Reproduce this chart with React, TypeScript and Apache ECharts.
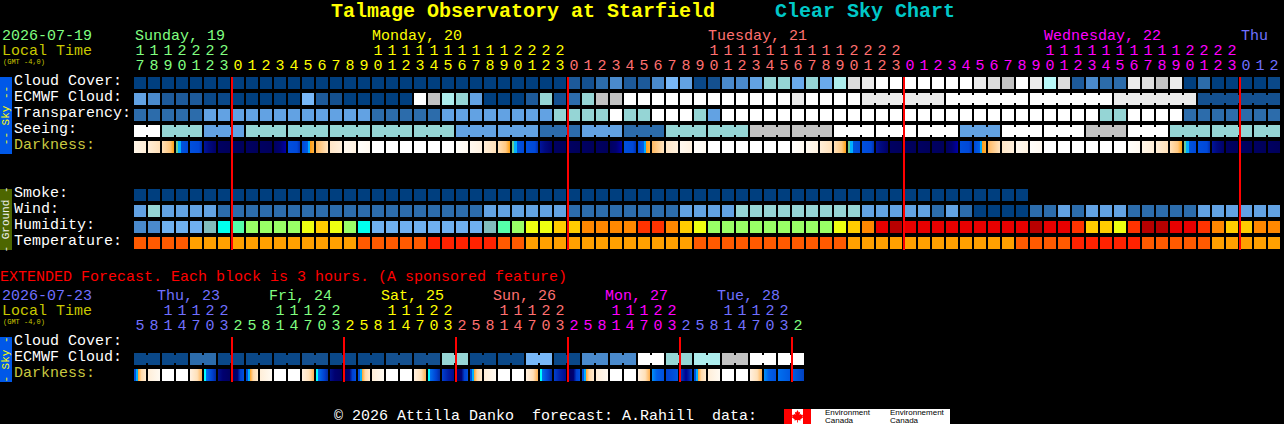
import React, { useEffect, useRef } from "react";
import * as echarts from "echarts";

const MONO = '"Liberation Mono", monospace';

const mainHours = ["17","18","19","20","21","22","23",
  "0","1","2","3","4","5","6","7","8","9","10","11","12","13","14","15","16","17","18","19","20","21","22","23",
  "0","1","2","3","4","5","6","7","8","9","10","11","12","13","14","15","16","17","18","19","20","21","22","23",
  "0","1","2","3","4","5","6","7","8","9","10","11","12","13","14","15","16","17","18","19","20","21","22","23",
  "0","1","2"];
const extHours = ["5","8","11","14","17","20","23",
  "2","5","8","11","14","17","20","23",
  "2","5","8","11","14","17","20","23",
  "2","5","8","11","14","17","20","23",
  "2","5","8","11","14","17","20","23",
  "2","5","8","11","14","17","20","23",
  "2"];

const dayColors = ["#80ff80", "#ffff00", "#ff7070", "#ff00ff", "#7070ff"];
const mainDayLabels = [
  { text: "Sunday, 19", x: 135, c: 0 },
  { text: "Monday, 20", x: 372, c: 1 },
  { text: "Tuesday, 21", x: 708, c: 2 },
  { text: "Wednesday, 22", x: 1044, c: 3 },
  { text: "Thu", x: 1241, c: 4 },
];
const extDayLabels = [
  { text: "Thu, 23", x: 157, c: 4 },
  { text: "Fri, 24", x: 269, c: 0 },
  { text: "Sat, 25", x: 381, c: 1 },
  { text: "Sun, 26", x: 493, c: 2 },
  { text: "Mon, 27", x: 605, c: 3 },
  { text: "Tue, 28", x: 717, c: 4 },
];

const mainRows = ["Cloud Cover:", "ECMWF Cloud:", "Transparency:", "Seeing:", "Darkness:", " ", "  ", "Smoke:", "Wind:", "Humidity:", "Temperature:"];
const extRows = ["Cloud Cover:", "ECMWF Cloud:", "Darkness:"];
const DARK_LABEL = "#c8c840";

const skyPalette = ["#003f7f","#0a4888","#14508f","#1d5a9a","#2c6cab","#4a8acc","#62a2e3","#6aaaeb","#78b8f8","#95d5d5","#adeded","#b9f9f9","#c2c2c2","#dddddd","#ebebeb","#ffffff"];
const humidityPalette = ["#4a8acc","#6fb0f0","#80bcbc","#00ffee","#55ffaa","#99ff66","#eeff11","#ffcc00","#ff8800","#ff3300","#e80000","#b80000"];
const temperaturePalette = ["#ffa000","#ff5a00","#ff2200"];

const cloudCover = [0,0,0,0,0,0,0,0,0,0,0,0,0,0,0,0,0,0,0,0,0,0,0,0,0,0,0,0,0,0,0,
  3,2,4,5,3,3,5,8,6,1,2,5,5,6,9,9,7,9,7,10,13,14,15,15,15,15,15,15,15,14,13,12,15,14,11,13,3,5,4,4,14,13,12,14,0,4,0,0,0,0,1];
const ecmwfCloud = [6,5,3,3,3,1,1,0,0,0,0,0,8,3,2,0,0,0,0,0,15,12,10,9,6,0,0,0,3,9,2,4,9,12,12,
  15,15,15,15,15,15,15,15,15,15,15,15,14,15,15,15,15,
  14,14,14,14,14,14,15,15,15,15,15,15,15,15,15,15,15,15,14,14,14,14,14,14,2,2,2,2,2,2];
const transparency = [4,4,4,4,4,6,6,6,6,6,6,6,6,6,6,6,6,4,4,4,4,4,6,6,6,6,6,6,6,6,9,9,9,9,15,9,9,15,15,15,9,6,
  15,15,15,15,15,15,15,15,15,15,15,15,15,15,15,15,15,15,15,15,15,15,15,15,15,15,15,9,9,15,15,15,15,4,4,4,4,4,4,4];
const seeing = [15,15,9,9,9,6,6,6,9,9,9,9,9,9,9,9,9,9,9,9,9,9,9,6,6,6,6,6,6,4,4,4,6,6,6,4,4,4,9,9,9,9,9,9,12,12,12,12,12,12,
  15,15,15,15,15,15,15,15,15,6,6,6,15,15,15,15,15,15,12,12,12,15,15,15,9,9,9,9,9,9,9,9];
const darkness = ["E0","E1","SS","CY","B","DK","N","N","N","N","DU","B","SR","A1","A2","F2","F1","W","W","W","W","W","W","F1",
  "F2","E1","SS","CY","B","DK","N","N","N","N","DU","B","SR","A1","A2","F2","F1","W","W","W","W","W","W","F1",
  "F2","E1","SS","CY","B","DK","N","N","N","N","DU","B","SR","A1","A2","F2","F1","W","W","W","W","W","W","F1",
  "E0","E1","SS","CY","B","DK","N","N","N","N"];
const smoke = [0,0,0,0,0,0,0,0,0,0,0,0,0,0,0,0,0,0,0,0,0,0,0,0,0,0,0,0,0,0,0,0,0,0,0,0,0,0,0,0,0,0,0,0,0,0,0,0,0,0,0,0,0,0,0,0,0,0,0,0,0,0,0,0];
const wind = [6,9,6,6,6,6,4,4,4,4,4,4,4,4,4,4,4,4,4,4,4,4,4,4,4,6,6,6,6,6,6,4,4,4,4,4,4,4,4,6,6,6,6,9,9,9,9,9,9,9,9,9,
  6,6,6,6,6,4,6,4,0,0,0,0,4,4,6,4,6,6,6,4,4,4,4,4,6,6,6,6,6,6];
const humidity = [0,0,1,1,1,2,3,4,5,5,5,5,6,7,6,5,3,1,1,1,1,1,1,1,1,2,4,5,6,6,7,7,8,8,8,8,9,9,8,7,6,5,5,5,5,5,5,5,5,5,6,7,8,
  10,11,10,10,10,10,10,10,10,10,10,11,10,10,9,7,7,6,9,11,11,10,10,9,8,7,7,8,8];
const temperature = [1,1,1,1,0,0,0,0,0,0,0,0,0,0,0,0,1,1,1,1,1,2,2,2,2,2,1,1,0,0,0,0,0,0,0,0,0,0,0,0,1,1,1,1,1,1,1,1,1,1,1,
  0,0,0,0,0,0,0,0,0,0,0,0,1,1,1,1,2,2,2,2,2,1,1,1,1,1,0,0,0,0,0];

const extEcmwf = [1,1,1,1,4,4,1,1,1,1,1,1,2,2,1,1,1,1,2,2,2,2,9,9,1,1,1,1,8,8,1,1,5,5,5,5,15,15,9,9,10,10,12,12,15,15,15,15];
const extDarkness = ["X0","X1","W","W","X4","X5","X6","X7",
  "X0","X1","W","W","X4","X5","X6","X7",
  "X0","X1","W","W","X4","X5","X6B","X7",
  "X0","X1","W","W","X4","X5","X6B","X7",
  "X0","X1","W","W","X4","X5B","X6C","X7B",
  "X0","X1","W","W","X4","X5B","X6D","X7C"];

const mainMidnights = [7, 31, 55, 79];
const extMidnights = [7, 15, 23, 31, 39, 47];

// seeing blocks span three columns, the first one is cut short
const seeingBlockStarts = [0,2,5,8,11,14,17,20,23,26,29,32,35,38,41,44,47,50,53,56,59,62,65,68,71,74,77,80];
const ecmwfBlockStarts = [52,58,64,70,76];
const ecmwfBlockEnd = 82;
const extBlockStarts = [0,2,4,6,8,10,12,14,16,18,20,22,24,26,28,30,32,34,36,38,40,42,44,46];

type Stops = [number, string][];
const darknessStops: Record<string, Stops> = {
  W: [[0,"#ffffff"],[1,"#ffffff"]],
  F1: [[0,"#fffefb"],[1,"#fff9f0"]],
  F2: [[0,"#fff9f0"],[1,"#fff2e0"]],
  E0: [[0,"#fff6e8"],[1,"#ffeed8"]],
  E1: [[0,"#ffeed8"],[1,"#ffe0b8"]],
  SS: [[0,"#ffe0b8"],[0.65,"#ffc880"],[1,"#ffa010"]],
  CY: [[0,"#66cc99"],[0.16,"#66cc99"],[0.17,"#00b0ff"],[0.38,"#00b0ff"],[0.39,"#0055dd"],[1,"#0048d8"]],
  B: [[0,"#0050dd"],[0.75,"#0048d8"],[1,"#0030b0"]],
  DK: [[0,"#00149c"],[0.4,"#000a80"],[1,"#000068"]],
  N: [[0,"#000062"],[1,"#00005a"]],
  DU: [[0,"#000060"],[0.5,"#000070"],[1,"#0000a8"]],
  SR: [[0,"#0048d8"],[0.5,"#0060e8"],[0.51,"#00aaff"],[0.66,"#00aaff"],[0.67,"#ff9c10"],[1,"#ffb040"]],
  A1: [[0,"#ffb860"],[1,"#ffe4c0"]],
  A2: [[0,"#ffe6c8"],[1,"#fff0dc"]],
  X0: [[0,"#0050dd"],[0.17,"#0050dd"],[0.18,"#00b0ff"],[0.34,"#00b0ff"],[0.35,"#ffa830"],[0.6,"#ffd8a8"],[1,"#ffecd0"]],
  X1: [[0,"#ffeed8"],[1,"#fffaf2"]],
  X4: [[0,"#fff0e0"],[0.6,"#ffe0b8"],[1,"#ffb050"]],
  X5: [[0,"#00ffff"],[0.16,"#00ffff"],[0.17,"#0070f0"],[0.7,"#0040d0"],[1,"#002aa0"]],
  X5B: [[0,"#0090f8"],[0.4,"#0060e8"],[1,"#0050dd"]],
  X6: [[0,"#00108a"],[0.4,"#000070"],[1,"#000060"]],
  X6B: [[0,"#0040d0"],[0.5,"#0020a8"],[1,"#000a8c"]],
  X6C: [[0,"#0040d0"],[1,"#0058e0"]],
  X6D: [[0,"#0070f0"],[1,"#0058e0"]],
  X7: [[0,"#000060"],[0.45,"#000070"],[0.7,"#0040d0"],[1,"#0050dd"]],
  X7B: [[0,"#0040c0"],[0.5,"#000090"],[0.75,"#0020a8"],[1,"#0048d8"]],
  X7C: [[0,"#0060e0"],[1,"#0040c0"]],
};
const darknessNames = Object.keys(darknessStops);

function blockJoins(length: number, starts: number[], firstStart: number, end: number) {
  return Array.from({ length }, (_, col) =>
    col >= firstStart && col + 1 < end && !starts.includes(col + 1) ? 1 : 0
  );
}

function cellSeries(gridIndex: number, row: number, values: number[], paint: (v: number) => any, joins?: number[]) {
  return {
    type: "custom",
    xAxisIndex: gridIndex,
    yAxisIndex: gridIndex,
    silent: true,
    clip: false,
    encode: { x: 0, y: 1 },
    data: values.map((v, col) => [col, row, v, joins ? joins[col] : 0]),
    renderItem: (_p: any, api: any) => {
      const c = api.coord([api.value(0), api.value(1)]);
      const s = api.size([1, 1]);
      const fill = paint(api.value(2));
      const x = c[0] - s[0] / 2 + 1;
      const y = c[1] - s[1] / 2 + 2;
      const w = s[0] - 2;
      const h = s[1] - 4;
      const children: any[] = [{ type: "rect", shape: { x, y, width: w, height: h }, style: { fill } }];
      if (api.value(3)) {
        children.push({ type: "rect", shape: { x: x + w, y: y + 2, width: 2, height: h - 4 }, style: { fill } });
      }
      return { type: "group", children };
    },
  };
}

function midnightSeries(gridIndex: number, cols: number[], lastRow: number) {
  return {
    type: "custom",
    xAxisIndex: gridIndex,
    yAxisIndex: gridIndex,
    silent: true,
    clip: false,
    z: 5,
    encode: { x: 0, y: 1 },
    data: cols.map((col) => [col, 0]),
    renderItem: (_p: any, api: any) => {
      const top = api.coord([api.value(0), 0]);
      const bottom = api.coord([api.value(0), lastRow]);
      const s = api.size([1, 1]);
      return {
        type: "rect",
        shape: {
          x: top[0] - s[0] / 2,
          y: top[1] - s[1] / 2 + 2,
          width: 2,
          height: bottom[1] - top[1] + s[1] - 3,
        },
        style: { fill: "#ff0000" },
      };
    },
  };
}

const paintSky = (v: number) => skyPalette[v];
const paintHumidity = (v: number) => humidityPalette[v];
const paintTemperature = (v: number) => temperaturePalette[v];
const paintDarkness = (v: number) => {
  const stops = darknessStops[darknessNames[v]];
  return new echarts.graphic.LinearGradient(0, 0, 1, 0, stops.map(([offset, color]) => ({ offset, color })));
};
const dk = (names: string[]) => names.map((n) => darknessNames.indexOf(n));

function hourColors(hours: string[], startColor: number) {
  let day = startColor;
  return hours.map((h, i) => {
    if (i > 0 && Number(h) < Number(hours[i - 1])) day += 1;
    return dayColors[day % dayColors.length];
  });
}

function xAxisFor(gridIndex: number, hours: string[], startColor: number) {
  const colors = hourColors(hours, startColor);
  return {
    type: "category",
    gridIndex,
    position: "top",
    data: hours,
    axisLine: { show: false },
    axisTick: { show: false },
    splitLine: { show: false },
    axisLabel: {
      interval: 0,
      margin: 1,
      hideOverlap: false,
      fontFamily: MONO,
      fontSize: 15,
      lineHeight: 15,
      color: (_v: any, i: number) => colors[i],
      formatter: (v: string) => v.split("").join("\n"),
    },
  };
}

function yAxisFor(gridIndex: number, rows: string[]) {
  return {
    type: "category",
    gridIndex,
    inverse: true,
    data: rows,
    axisLine: { show: false },
    axisTick: { show: false },
    splitLine: { show: false },
    axisLabel: {
      interval: 0,
      align: "left",
      margin: 119,
      fontFamily: MONO,
      fontSize: 15,
      verticalAlign: "bottom",
      lineHeight: 4,
      color: (v: string) => (v === "Darkness:" ? DARK_LABEL : "#ffffff"),
    },
  };
}

function label(text: string, x: number, y: number, fill: string, size = 15, weight = "normal", extra: any = {}) {
  return {
    type: "text",
    x,
    y,
    silent: true,
    ...extra,
    style: {
      text,
      fill,
      font: `${weight} ${size}px ${MONO}`,
      textVerticalAlign: "middle",
      textAlign: extra.textAlign || "left",
    },
  };
}

function sideBar(top: number, height: number, fill: string, text: string, textFill: string) {
  return [
    { type: "rect", silent: true, shape: { x: 0, y: top, width: 12, height }, style: { fill } },
    {
      type: "text",
      x: 6,
      y: top + height / 2,
      rotation: Math.PI / 2,
      silent: true,
      style: { text, fill: textFill, font: `11px ${MONO}`, textAlign: "center", textVerticalAlign: "middle" },
    },
  ];
}

function logoText(text: string, x: number, y: number) {
  return {
    type: "text",
    silent: true,
    x,
    y,
    style: { text, fill: "#000", font: '8px "Liberation Sans", sans-serif', textVerticalAlign: "middle" },
  };
}

const leafPoints = [[0,-6],[1.3,-3.5],[2.6,-4.2],[2.1,-1],[3.4,-2.2],[4,-1],[5.6,-1.3],[5,.6],[5.8,1.2],[2.8,3.4],[3.1,4.4],[.4,4],[.4,6.4],[-.4,6.4],[-.4,4],[-3.1,4.4],[-2.8,3.4],[-5.8,1.2],[-5,.6],[-5.6,-1.3],[-4,-1],[-3.4,-2.2],[-2.1,-1],[-2.6,-4.2],[-1.3,-3.5]];

export default function App() {
  const ref = useRef<HTMLDivElement>(null);
  useEffect(() => {
    document.body.style.margin = "0";
    document.body.style.background = "#000";
    const chart = echarts.init(ref.current!, null, { renderer: "svg" });
    const seeingJoins = blockJoins(82, seeingBlockStarts, 0, 82);
    const ecmwfJoins = blockJoins(82, ecmwfBlockStarts, 52, ecmwfBlockEnd);
    const extJoins = blockJoins(48, extBlockStarts, 0, 48);
    chart.setOption({
      animation: false,
      backgroundColor: "#000000",
      grid: [
        { left: 133, top: 75, width: 1148, height: 176, containLabel: false, show: false },
        { left: 133, top: 335, width: 672, height: 48, containLabel: false, show: false },
      ],
      xAxis: [xAxisFor(0, mainHours, 0), xAxisFor(1, extHours, 4)],
      yAxis: [yAxisFor(0, mainRows), yAxisFor(1, extRows)],
      series: [
        cellSeries(0, 0, cloudCover, paintSky),
        cellSeries(0, 1, ecmwfCloud, paintSky, ecmwfJoins),
        cellSeries(0, 2, transparency, paintSky),
        cellSeries(0, 3, seeing, paintSky, seeingJoins),
        cellSeries(0, 4, dk(darkness), paintDarkness),
        cellSeries(0, 7, smoke, paintSky),
        cellSeries(0, 8, wind, paintSky),
        cellSeries(0, 9, humidity, paintHumidity),
        cellSeries(0, 10, temperature, paintTemperature),
        midnightSeries(0, mainMidnights, 10),
        cellSeries(1, 1, extEcmwf, paintSky, extJoins),
        cellSeries(1, 2, dk(extDarkness), paintDarkness),
        midnightSeries(1, extMidnights, 2),
      ],
      graphic: {
        elements: [
          label("Talmage Observatory at Starfield", 331, 11, "#ffff00", 20, "bold"),
          label("Clear Sky Chart", 775, 11, "#00c8c8", 20, "bold"),
          label("2026-07-19", 2, 36, "#80ff80"),
          label("Local Time", 2, 51, "#c8c800"),
          label("(GMT -4,0)", 3, 62, "#c8c800", 7),
          ...mainDayLabels.map((d) => label(d.text, d.x, 36, dayColors[d.c])),
          ...sideBar(77, 77, "#0058e8", "-- Sky --", "#ffff00"),
          ...sideBar(189, 61, "#4d6600", "- Ground -", "#f0f0f0"),
          label("EXTENDED Forecast. Each block is 3 hours. (A sponsored feature)", 0, 277, "#ff0000"),
          label("2026-07-23", 2, 296, "#7070ff"),
          label("Local Time", 2, 311, "#c8c800"),
          label("(GMT -4,0)", 3, 322, "#c8c800", 7),
          ...extDayLabels.map((d) => label(d.text, d.x, 296, dayColors[d.c])),
          ...sideBar(337, 45, "#0058e8", "- Sky -", "#ffff00"),
          label("\u00a9 2026 Attilla Danko  forecast: A.Rahill  data:", 334, 416, "#ffffff"),
          { type: "rect", silent: true, shape: { x: 784, y: 409, width: 166, height: 15 }, style: { fill: "#ffffff" } },
          { type: "rect", silent: true, shape: { x: 784, y: 409, width: 8, height: 15 }, style: { fill: "#ff0000" } },
          { type: "rect", silent: true, shape: { x: 803, y: 409, width: 8, height: 15 }, style: { fill: "#ff0000" } },
          {
            type: "polygon",
            silent: true,
            x: 797.5,
            y: 416,
            shape: { points: leafPoints },
            style: { fill: "#ff0000" },
          },
          logoText("Environment", 825, 412),
          logoText("Canada", 825, 420),
          logoText("Environnement", 890, 412),
          logoText("Canada", 890, 420),
        ],
      },
    });
    return () => chart.dispose();
  }, []);
  return <div ref={ref} style={{ width: 1284, height: 424 }} />;
}
